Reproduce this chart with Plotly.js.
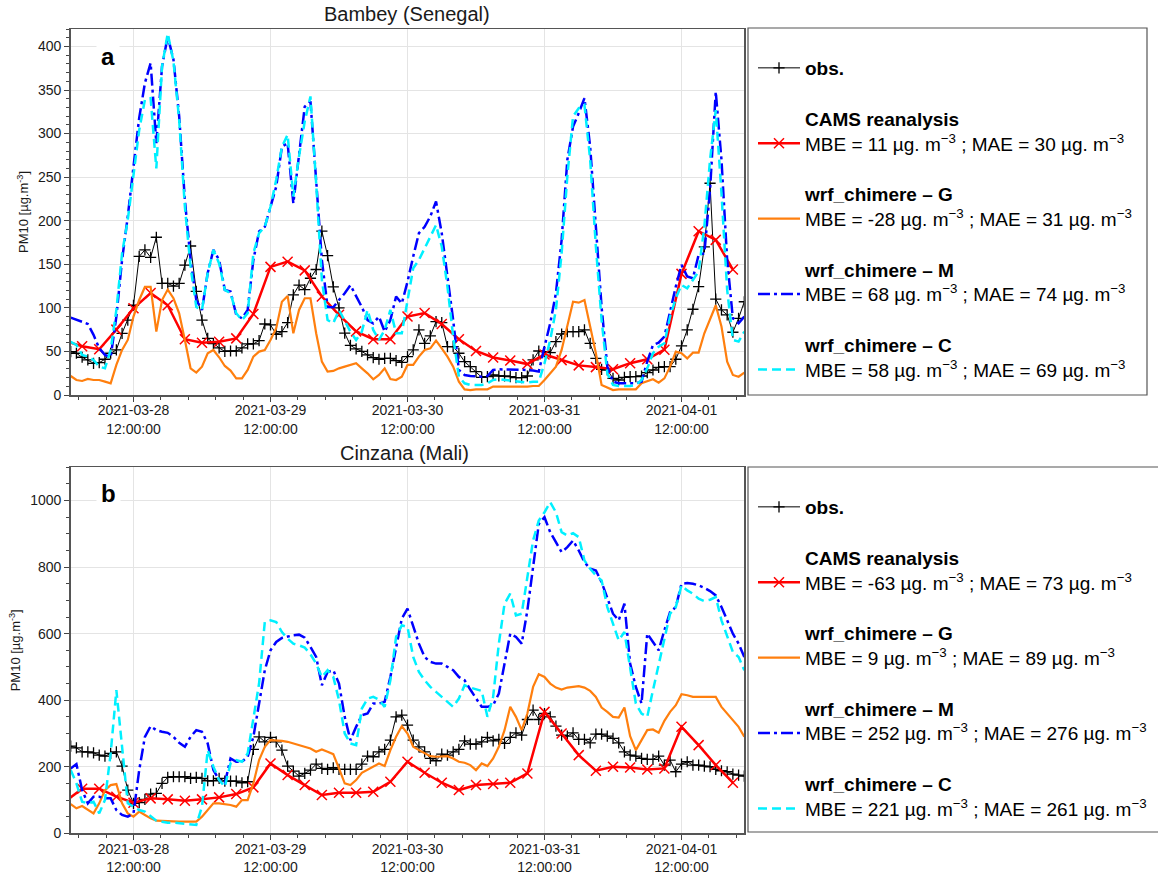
<!DOCTYPE html>
<html>
<head>
<meta charset="utf-8">
<script src="https://cdn.plot.ly/plotly-3.0.1.min.js"></script>
<style>
  html, body { margin: 0; padding: 0; background: #ffffff; }
  #chart { width: 1158px; height: 874px; }
</style>
</head>
<body>
<div id="chart"></div>
<script>
// PM10 time series at two Sahelian stations, 2021-03-28 01:00 to 2021-04-01 23:00 (UTC)
// Hourly series start at 2021-03-28 01:00; CAMS reanalysis is 3-hourly from 2021-03-28 00:00.

const stations = ['Bambey (Senegal)', 'Cinzana (Mali)'];
const panelLetters = ['a', 'b'];
const seriesNames = ['obs.', 'CAMS reanalysis', 'wrf_chimere – G', 'wrf_chimere – M', 'wrf_chimere – C'];

// Scores per station: [MBE, MAE] in µg.m-3
const scoresBambey = { cams: [11, 30], g: [-28, 31], m: [68, 74], c: [58, 69] };
const scoresCinzana = { cams: [-63, 73], g: [9, 89], m: [252, 276], c: [221, 261] };

// ---------- Bambey (Senegal) ----------
const bambeyObs = [
  49.8,47.9,43.3,40.2,36.4,37.1,41,47.9,51.7,70.8,
  86,103,159,166.5,158,181,128,128,125,128,
  149,171,119,86,65,59,54,50,50.5,50.5,
  54,58.6,58.6,62.4,81.5,80.4,69.7,72.7,83,115,
  126,121,134,144,188,160,124,100,71,57,
  53,50,46,43,41,42,42,39.4,37.5,44,
  51.7,74.7,59.3,67.8,84.2,83,55.5,55.5,47.9,38.3,
  32.5,26.8,20.3,21,23,21.8,21.8,21,19.9,19.9,
  21.8,40.2,50.5,49.8,48.6,61.3,70,72.7,72.7,72.7,
  74.7,59.3,42,29.5,28.7,19.1,17.2,20.3,21,21,
  21.8,25.7,28.7,31.8,32.5,32.5,41,56.3,74.7,98.4,
  124.4,170,243,110,97.6,91.9,72,88,107
];
const bambeyCams = [
  62,56,52.5,75,99.5,117,103,64,60,61,
  65,93,147,153,143,113,92,73,64,64,
  90,94,81.5,64,50.5,43,39.5,35.5,46.5,40,
  34,32,29.5,36.5,41,52,139,188,178,144
];
const bambeyG = [
  21.8,17.2,16.1,18.4,17.2,17.2,15.3,13.4,34.5,51.7,
  63.2,90,109,124,124,72.7,109,121,111,93.8,
  63.2,30.6,25.7,32.5,47.9,51.7,43.3,33.3,28,19.1,
  19.1,28.7,44,49.8,51.7,63.2,76.6,107,113.7,70.8,
  97.6,111,111,70.8,38.3,26.8,27.6,30.6,32.5,34.5,
  36.4,30.6,24.9,18,23,30.6,18.4,17.2,21,34.5,
  34.5,44,51.7,53.6,62.4,53.6,44,32.5,15.3,6.5,
  5.7,6.5,6.5,6.5,9.6,9.6,9.6,9.6,8.8,8.8,
  9.6,10.3,10.3,17.2,24.9,32.5,51.7,78.5,107,106,
  109,78.5,47.9,11.5,8.4,5.7,6.5,6.5,6.5,6.5,
  13.4,15.3,18,14.2,19.1,32.5,49.8,47.9,42,48.6,
  48.6,70.8,86,103,78.5,38.3,23,21,25.7
];
const bambeyM = [
  88.8,86,84,81.5,69,53.6,46,43.3,90,155,
  205,262,318,358,381,289,377,411.6,385,320,
  224,155,109,97.6,140,166.5,155,120.6,118.7,92,
  88,97.6,155,187.6,193,216,239,285,289,220,
  277.6,331,337,247,155,101,100.7,109,116.8,126,
  113,101,86,82.3,90,72.7,86,113,105,130,
  159,185.7,193,205,222,185.7,136,86,28.7,23,
  21.8,21,21,21.8,28.7,29.5,29.5,28.7,28.7,28.7,
  28.7,28,26.8,55.5,82.3,116.8,178,270,308,323.5,
  340.7,285,193,101,32.5,15.3,13.4,13.4,13.4,13.4,
  15.3,38.3,57.4,60,67,97.6,124.4,149.3,136,134,
  160.8,162.7,235.5,348,270,155,88,82.3,90
];
const bambeyC = [
  61,57.4,46,44,40.2,32.5,30.6,51.7,97.6,162.7,
  201,254.6,304,338.8,340.7,260,377,415,383,316,
  216,147,101,97.6,140,166.5,151,120.6,116.8,93.8,
  86,93.8,162.7,185.7,193,216,247,285,298.6,227.8,
  274,314,342.6,243,132,86,82.3,97.6,86,72.7,
  63.2,72.7,97.6,74.7,63.2,74.7,97.6,70.8,70.8,110,
  145.5,155,168.5,181.9,195,170.4,124.4,67,21,13.4,
  11.5,11.5,11.5,13.4,17.2,18,17.2,16.5,15.3,15.3,
  14.2,15.3,15.3,36.4,63.2,97.6,162.7,250.8,319.7,329,
  333,270,170.4,86,24.9,11.5,10.3,10.3,10.3,11.5,
  17.2,30.6,47.9,55.5,59.3,90,111,126.3,122.5,132,
  141.7,193.3,270,327,231.6,120.6,63.2,61.3,72.7
];

// ---------- Cinzana (Mali) ----------
const cinzanaObs = [
  262,257,245,245,242,235,232,240,245,202,
  130,90,92,102,118,120,150,168,170,170,
  170,165,168,165,158,158,165,157,157,157,
  152,155,252,290,275,288,275,250,202,187,
  172,180,190,208,195,192,197,192,192,192,
  192,208,232,230,245,252,280,350,355,325,
  280,260,245,225,218,238,235,245,252,278,
  268,268,275,288,278,282,270,288,302,295,
  342,370,342,360,350,322,295,292,302,282,
  282,272,298,298,292,285,272,245,235,232,
  225,222,222,232,205,220,185,208,215,205,
  205,202,200,192,188,185,178,175,172
];
const cinzanaCams = [
  95,134,134,110,92,105,102,98,102,108,
  118,138,210,175,145,115,122,122,125,155,
  215,182,152,130,145,148,152,180,365,300,
  235,188,200,198,192,195,320,265,205,152
];
const cinzanaG = [
  88,75,82,70,60,90,130,145,148,90,
  60,50,65,55,45,38,38,37,36,35,
  35,35,35,50,70,90,90,88,85,80,
  100,100,150,220,260,280,280,278,275,270,
  265,262,255,245,252,245,238,195,150,145,
  160,182,192,200,210,202,250,290,322,300,
  260,250,240,232,230,230,232,225,215,212,
  205,190,210,202,225,260,310,380,350,310,
  360,440,478,470,450,438,432,438,440,442,
  438,428,410,378,365,350,348,378,292,250,
  280,310,312,302,338,365,385,418,415,410,
  410,410,412,410,380,360,342,320,290
];
const cinzanaM = [
  195,208,130,90,110,110,105,105,70,55,
  50,60,190,290,322,310,305,302,290,272,
  260,290,310,305,270,190,160,150,225,215,
  215,230,290,390,490,550,575,587,592,595,
  597,588,560,530,445,485,490,450,350,280,
  320,355,360,390,390,395,470,555,645,675,
  620,570,530,515,510,510,500,490,470,460,
  432,405,380,380,385,420,510,600,590,570,
  670,795,930,950,905,875,845,860,880,850,
  815,795,790,755,710,660,640,690,510,440,
  390,600,575,550,610,665,680,750,752,750,
  745,738,728,715,680,640,600,570,530
];
const cinzanaC = [
  190,150,95,90,95,60,100,240,430,250,
  90,80,70,65,50,38,35,32,32,30,
  28,25,25,80,250,200,160,140,210,220,
  215,240,340,450,635,640,635,605,585,570,
  565,558,538,510,470,490,470,400,300,270,
  265,375,405,410,402,380,460,590,625,620,
  530,485,460,440,425,410,395,380,405,445,
  438,432,428,350,410,570,690,720,655,660,
  770,880,940,965,995,965,905,895,902,890,
  820,795,775,760,680,630,580,605,500,390,
  360,350,430,510,590,660,680,745,730,720,
  705,698,702,710,640,590,545,530,490
];

// ---------- time stamps ----------
function timeAxis(startUtcHour, stepHours, n) {
  const t0 = Date.UTC(2021, 2, 28, startUtcHour);
  const out = [];
  for (let i = 0; i < n; i++) {
    out.push(new Date(t0 + i * stepHours * 3600e3).toISOString().slice(0, 19).replace('T', ' '));
  }
  return out;
}
const hourlyTimes = timeAxis(1, 1, bambeyObs.length);
const camsTimes = timeAxis(0, 3, bambeyCams.length);

// ---------- figure geometry (pixels of the 1158 x 874 canvas) ----------
const W = 1158, H = 874;
const px = v => v / W;
const py = v => 1 - v / H;
const FONT = 'Liberation Sans, Arial, Helvetica, sans-serif';
const unit = 'µg. m<sup>−3</sup>';

function scoreLabel(name, s) {
  return '<b>' + name + '</b><br>MBE = ' + s[0] + ' ' + unit + ' ; MAE = ' + s[1] + ' ' + unit;
}

function stationTraces(obs, cams, g, m, c, scores, k) {
  const xa = k === 0 ? 'x' : 'x2';
  const ya = k === 0 ? 'y' : 'y2';
  const lg = k === 0 ? 'legend' : 'legend2';
  return [
    { x: hourlyTimes, y: obs, name: '<b>' + seriesNames[0] + '</b>', xaxis: xa, yaxis: ya, legend: lg,
      legendgroup: 'obs' + k, mode: 'lines+markers', type: 'scatter',
      line: { color: '#000000', width: 1 },
      marker: { symbol: 'cross-thin', size: 8, color: '#000000', line: { color: '#000000', width: 1.3 } } },
    { x: camsTimes, y: cams, name: scoreLabel(seriesNames[1], scores.cams), xaxis: xa, yaxis: ya, legend: lg,
      legendgroup: 'cams' + k, mode: 'lines+markers', type: 'scatter',
      line: { color: '#ff0000', width: 2.5 },
      marker: { symbol: 'x-thin', size: 10, color: '#ff0000', line: { color: '#ff0000', width: 1.5 } } },
    { x: hourlyTimes, y: g, name: scoreLabel(seriesNames[2], scores.g), xaxis: xa, yaxis: ya, legend: lg,
      legendgroup: 'g' + k, mode: 'lines', type: 'scatter',
      line: { color: '#ff7f0e', width: 2.2 } },
    { x: hourlyTimes, y: m, name: scoreLabel(seriesNames[3], scores.m), xaxis: xa, yaxis: ya, legend: lg,
      legendgroup: 'm' + k, mode: 'lines', type: 'scatter',
      line: { color: '#0000ff', width: 2.5, dash: '12px,4px,3px,4px' } },
    { x: hourlyTimes, y: c, name: scoreLabel(seriesNames[4], scores.c), xaxis: xa, yaxis: ya, legend: lg,
      legendgroup: 'c' + k, mode: 'lines', type: 'scatter',
      line: { color: '#00f0ff', width: 2.5, dash: '9px,5px' } }
  ];
}

const data = [
  ...stationTraces(bambeyObs, bambeyCams, bambeyG, bambeyM, bambeyC, scoresBambey, 0),
  ...stationTraces(cinzanaObs, cinzanaCams, cinzanaG, cinzanaM, cinzanaC, scoresCinzana, 1)
];

const DAY = 86400000;
const xRange = ['2021-03-28 01:00:00', '2021-04-01 23:00:00'];

function timeAxisLayout(anchor) {
  return {
    type: 'date', anchor: anchor, domain: [px(70.7), px(744.3)], range: xRange,
    tick0: '2021-03-28 12:00:00', dtick: DAY, tickformat: '%Y-%m-%d<br>%H:%M:%S',
    ticks: 'outside', ticklen: 5, tickwidth: 1, tickcolor: '#444', ticklabelstandoff: -3,
    showline: true, mirror: true, linecolor: '#555', linewidth: 1.5,
    showgrid: true, gridcolor: '#e4e4e4', gridwidth: 1, zeroline: false,
    tickfont: { family: FONT, size: 14, color: '#1a1a1a' },
    minor: { tick0: '2021-03-28 12:00:00', dtick: DAY / 5, ticks: 'outside', ticklen: 3, tickcolor: '#444', showgrid: false }
  };
}

function valueAxisLayout(anchor, dom, top, step, minorStep) {
  return {
    anchor: anchor, domain: dom, range: [0, top], dtick: step, tick0: 0,
    ticks: 'outside', ticklen: 5, tickwidth: 1, tickcolor: '#444',
    showline: true, mirror: true, linecolor: '#555', linewidth: 1.5,
    showgrid: true, gridcolor: '#e4e4e4', gridwidth: 1, zeroline: false,
    tickfont: { family: FONT, size: 14, color: '#1a1a1a' },
    title: { text: 'PM10 [µg.m<sup>-3</sup>]', font: { family: FONT, size: 13, color: '#1a1a1a' }, standoff: 6 },
    minor: { dtick: minorStep, ticks: 'outside', ticklen: 3, tickcolor: '#444', showgrid: false }
  };
}

function legendLayout(topPx) {
  return {
    x: px(753), y: py(topPx), xanchor: 'left', yanchor: 'top',
    bgcolor: 'rgba(0,0,0,0)', borderwidth: 0,
    font: { family: FONT, size: 19, color: '#000000' },
    valign: 'bottom', itemwidth: 42, tracegroupgap: 23, traceorder: 'grouped',
    itemclick: false, itemdoubleclick: false
  };
}

const layout = {
  width: W, height: H,
  margin: { l: 0, r: 0, t: 0, b: 0 },
  paper_bgcolor: '#ffffff', plot_bgcolor: '#ffffff',
  font: { family: FONT, color: '#1a1a1a' },
  showlegend: true,
  xaxis: timeAxisLayout('y'),
  yaxis: valueAxisLayout('x', [py(395), py(29)], 420, 50, 10),
  xaxis2: timeAxisLayout('y2'),
  yaxis2: valueAxisLayout('x2', [py(833.3), py(467.3)], 1100, 200, 50),
  legend: legendLayout(49),
  legend2: legendLayout(488),
  shapes: [
    { type: 'rect', xref: 'paper', yref: 'paper', x0: px(748), x1: px(1147), y0: py(395), y1: py(28),
      line: { color: '#555', width: 1.2 }, fillcolor: 'rgba(0,0,0,0)' },
    { type: 'rect', xref: 'paper', yref: 'paper', x0: px(748), x1: px(1170), y0: py(832), y1: py(467),
      line: { color: '#555', width: 1.2 }, fillcolor: 'rgba(0,0,0,0)' }
  ],
  annotations: [
    { text: stations[0], xref: 'paper', yref: 'paper', x: px(407), y: py(14), xanchor: 'center', yanchor: 'middle',
      showarrow: false, font: { family: FONT, size: 20, color: '#1a1a1a' } },
    { text: stations[1], xref: 'paper', yref: 'paper', x: px(404), y: py(453), xanchor: 'center', yanchor: 'middle',
      showarrow: false, font: { family: FONT, size: 20, color: '#1a1a1a' } },
    { text: '<b>' + panelLetters[0] + '</b>', xref: 'paper', yref: 'paper', x: px(108), y: py(57),
      xanchor: 'center', yanchor: 'middle', showarrow: false,
      bgcolor: '#ffffff', borderpad: 4, font: { family: FONT, size: 24, color: '#000000' } },
    { text: '<b>' + panelLetters[1] + '</b>', xref: 'paper', yref: 'paper', x: px(108), y: py(493),
      xanchor: 'center', yanchor: 'middle', showarrow: false,
      bgcolor: '#ffffff', borderpad: 4, font: { family: FONT, size: 24, color: '#000000' } }
  ]
};

Plotly.newPlot('chart', data, layout, { displayModeBar: false, staticPlot: true });
</script>
</body>
</html>
